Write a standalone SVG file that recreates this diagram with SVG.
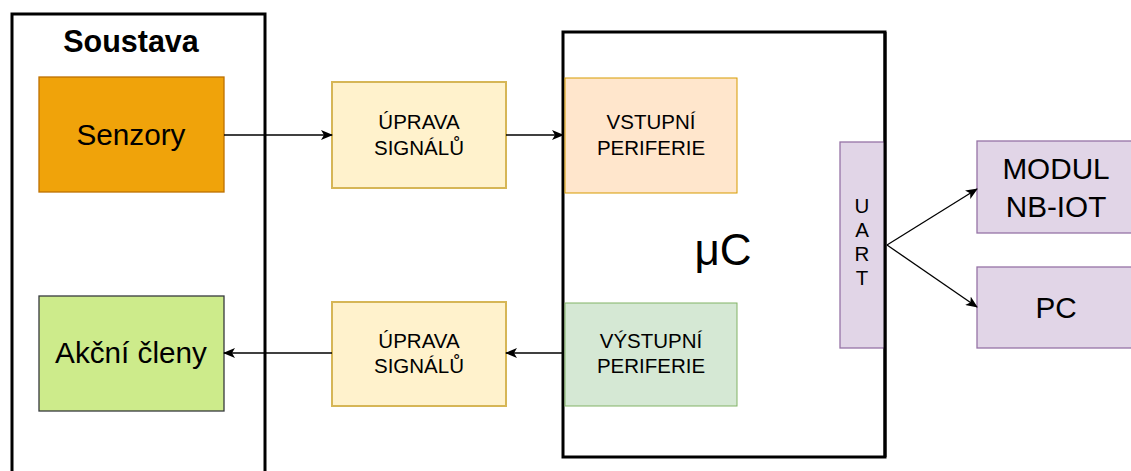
<svg xmlns="http://www.w3.org/2000/svg" width="1131" height="471" viewBox="0 0 1131 471">
<defs>
<style>
text{font-family:"Liberation Sans",Arial,sans-serif;fill:#000;text-anchor:middle}
.big{font-size:29.7px}
.sm{font-size:20.5px}
.cont{fill:#fff;stroke:#000;stroke-width:3}
.purple{fill:#e1d5e7;stroke:#9673a6;stroke-width:1.3}
.upr{fill:#fff2cc;stroke:#d6b656;stroke-width:2}
.edge{stroke:#000;stroke-width:1.3;fill:none}
</style>
<marker id="arr" viewBox="0 0 12 10" refX="11" refY="5" markerWidth="12" markerHeight="10" markerUnits="userSpaceOnUse" orient="auto">
<path d="M0,0 L12,5 L0,10 L3,5 Z" fill="#000"/>
</marker>
</defs>
<rect width="1131" height="471" fill="#fff"/>
<g id="soustava">
<rect class="cont" x="12" y="14" width="253" height="470"/>
<text x="131" y="52" style="font-size:30.5px;font-weight:bold">Soustava</text>
</g>
<g id="senzory">
<rect x="39" y="77" width="185" height="115" fill="#f0a30a" stroke="#bd7000" stroke-width="1.3"/>
<text class="big" x="131" y="145">Senzory</text>
</g>
<g id="akcni">
<rect x="39" y="296" width="185" height="115" fill="#cdeb8b" stroke="#36393d" stroke-width="1.3"/>
<text class="big" x="131" y="363">Akční členy</text>
</g>
<g id="uprava1">
<rect class="upr" x="332" y="82" width="174" height="106"/>
<text class="sm" x="419" y="129">ÚPRAVA</text>
<text class="sm" x="419" y="155">SIGNÁLŮ</text>
</g>
<g id="uprava2">
<rect class="upr" x="332" y="302" width="174" height="104"/>
<text class="sm" x="419" y="348">ÚPRAVA</text>
<text class="sm" x="419" y="373">SIGNÁLŮ</text>
</g>
<g id="uc">
<rect class="cont" x="563" y="32" width="322" height="425"/>
<text x="723" y="265" style="font-size:44px">μC</text>
</g>
<g id="vstupni">
<rect x="565" y="78" width="172" height="115" fill="#ffe6cc" stroke="#d79b00" stroke-width="1"/>
<text class="sm" x="651" y="129">VSTUPNÍ</text>
<text class="sm" x="651" y="155">PERIFERIE</text>
</g>
<g id="vystupni">
<rect x="565" y="303" width="172" height="103" fill="#d5e8d4" stroke="#82b366" stroke-width="1"/>
<text class="sm" x="651" y="348">VÝSTUPNÍ</text>
<text class="sm" x="651" y="373">PERIFERIE</text>
</g>
<g id="uart">
<rect class="purple" x="840" y="142" width="45" height="206"/>
<line x1="885" y1="32" x2="885" y2="457" stroke="#000" stroke-width="3"/>
<text class="sm" x="862" y="213">U</text>
<text class="sm" x="862" y="237">A</text>
<text class="sm" x="862" y="261">R</text>
<text class="sm" x="862" y="285">T</text>
</g>
<g id="modul">
<rect class="purple" x="977" y="141" width="160" height="92"/>
<text class="big" x="1056" y="179">MODUL</text>
<text class="big" x="1056" y="217">NB-IOT</text>
</g>
<g id="pc">
<rect class="purple" x="977" y="267" width="160" height="81"/>
<text class="big" x="1056" y="318">PC</text>
</g>
<g id="connectors">
<line class="edge" x1="224" y1="135" x2="332" y2="135" marker-end="url(#arr)"/>
<line class="edge" x1="506" y1="135" x2="563" y2="135" marker-end="url(#arr)"/>
<line class="edge" x1="563" y1="353" x2="506" y2="353" marker-end="url(#arr)"/>
<line class="edge" x1="332" y1="353" x2="224" y2="353" marker-end="url(#arr)"/>
<line class="edge" x1="887" y1="245" x2="977" y2="189" marker-end="url(#arr)"/>
<line class="edge" x1="887" y1="245" x2="977" y2="307" marker-end="url(#arr)"/>
</g>
</svg>
